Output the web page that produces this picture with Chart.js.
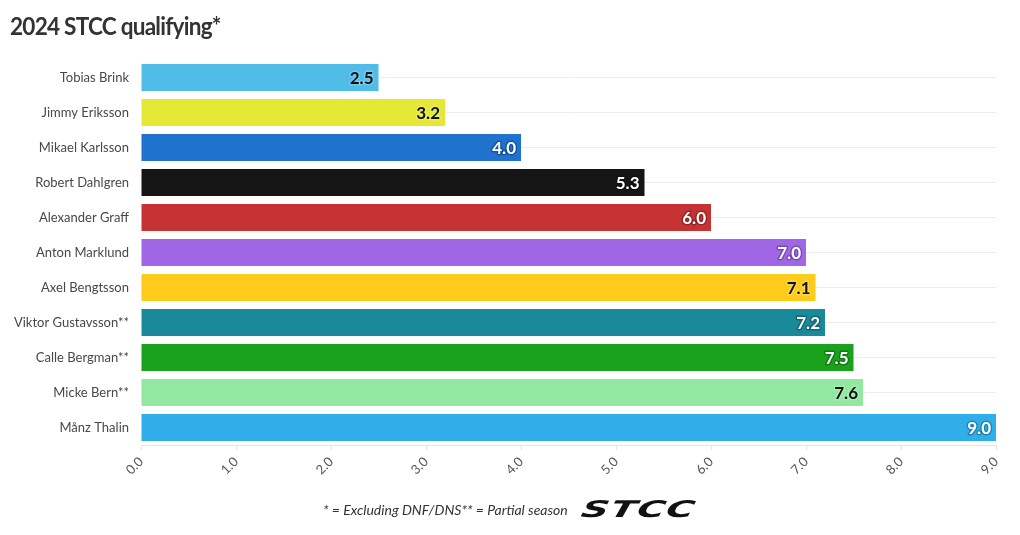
<!DOCTYPE html>
<html>
<head>
<meta charset="utf-8">
<script src="https://cdn.jsdelivr.net/npm/chart.js@4.4.1/dist/chart.umd.min.js"></script>
<style>
  body { margin: 0; background: #fff; font-family: Lato, sans-serif; }
  #wrap { position: relative; width: 1020px; height: 535px; }
  #title { position: absolute; left: 10px; top: 11px; font-size: 24px; font-weight: bold; color: #333; letter-spacing: -0.8px; transform: scaleX(0.94); transform-origin: left; }
  #foot { position: absolute; left: 323px; top: 497px; height: 24px; display: flex; align-items: center; }
  #foot .note { font-style: italic; font-size: 14px; color: #333; }
  #foot .logo { margin-left: 14px; font-family: "DejaVu Sans", sans-serif; font-weight: bold; font-style: italic; font-size: 28px; color: #111; letter-spacing: 1px; transform: skewX(-14deg) scale(1.35, 0.82); transform-origin: left center; display: inline-block; }
  canvas { position: absolute; left: 0; top: 0; }
</style>
</head>
<body>
<div id="wrap">
  <canvas id="myChart" width="1020" height="535"></canvas>
  <div id="title">2024 STCC qualifying*</div>
  <div id="foot"><span class="note">* = Excluding DNF/DNS** = Partial season</span><span class="logo">STCC</span></div>
</div>
<script>
var drivers = ['Tobias Brink', 'Jimmy Eriksson', 'Mikael Karlsson', 'Robert Dahlgren', 'Alexander Graff',
    'Anton Marklund', 'Axel Bengtsson', 'Viktor Gustavsson**', 'Calle Bergman**', 'Micke Bern**', 'Månz Thalin'];
var avgQuali = [2.5, 3.2, 4.0, 5.3, 6.0, 7.0, 7.1, 7.2, 7.5, 7.6, 9.0];
var barColors = ['#50bde8', '#e4e835', '#1f72cd', '#151515', '#c63335', '#a066e6', '#fdcb1a',
    '#1a8999', '#1ba21c', '#93e8a1', '#2faeea'];
var labelColors = ['#111', '#111', '#fff', '#fff', '#fff', '#fff', '#111', '#fff', '#fff', '#111', '#fff'];
var xTicks = [0, 1, 2, 3, 4, 5, 6, 7, 8, 9];

// skriver värdet inne i slutet av varje stapel
var valueLabels = {
    id: 'valueLabels',
    afterDatasetsDraw: function (chart) {
        var ctx = chart.ctx;
        var meta = chart.getDatasetMeta(0);
        ctx.save();
        ctx.font = 'bold 17px Lato, sans-serif';
        ctx.textAlign = 'right';
        ctx.textBaseline = 'middle';
        ctx.lineJoin = 'round';
        meta.data.forEach(function (bar, i) {
            var txt = avgQuali[i].toFixed(1);
            var x = bar.x - 5, y = bar.y + 1;
            ctx.lineWidth = 3;
            ctx.strokeStyle = labelColors[i] === '#fff' ? 'rgba(0,0,0,0.25)' : 'rgba(255,255,255,0.2)';
            ctx.strokeText(txt, x, y);
            ctx.fillStyle = labelColors[i];
            ctx.fillText(txt, x, y);
        });
        ctx.restore();
    }
};

var ctx = document.getElementById('myChart').getContext('2d');
var myChart = new Chart(ctx, {
    type: 'bar',
    data: {
        labels: drivers,
        datasets: [{
            data: avgQuali,
            backgroundColor: barColors,
            borderWidth: 0,
            categoryPercentage: 1,
            barPercentage: 0.77
        }]
    },
    options: {
        indexAxis: 'y',
        responsive: false,
        animation: false,
        layout: { padding: { top: 60, left: 10, right: 24, bottom: 45 } },
        plugins: {
            legend: { display: false },
            tooltip: { enabled: false }
        },
        scales: {
            x: {
                min: 0,
                max: 9,
                afterBuildTicks: function (axis) {
                    axis.ticks = xTicks.map(function (v) { return { value: v }; });
                },
                afterFit: function (axis) { axis.height = 45; },
                grid: { drawOnChartArea: false, drawTicks: true, tickLength: 5, color: '#e3e3e3' },
                border: { display: true, color: '#e3e3e3' },
                ticks: {
                    minRotation: 45,
                    maxRotation: 45,
                    padding: 4,
                    color: '#555',
                    font: { family: 'Lato, sans-serif', size: 13 },
                    callback: function (v) { return Number(v).toFixed(1); }
                }
            },
            y: {
                afterFit: function (axis) { axis.width = 131; },
                grid: { offset: false, drawTicks: false, color: '#ececec' },
                border: { display: false },
                ticks: {
                    padding: 12,
                    color: '#484848',
                    font: { family: 'Lato, sans-serif', size: 13 }
                }
            }
        }
    },
    plugins: [valueLabels]
});
</script>
</body>
</html>
